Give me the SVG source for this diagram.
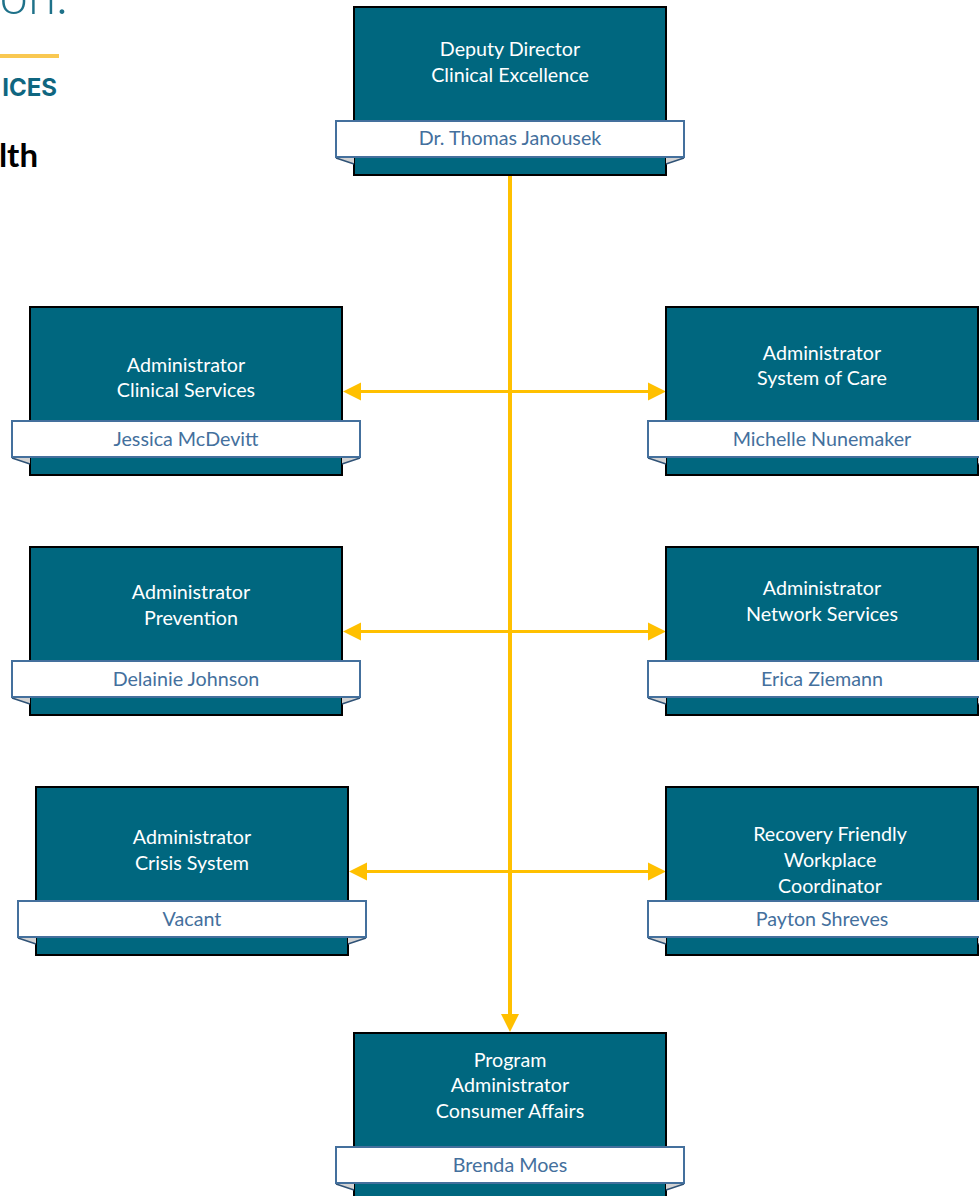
<svg xmlns="http://www.w3.org/2000/svg" width="979" height="1196" viewBox="0 0 979 1196">
<style>
text{font-family:"Lato","Open Sans","Liberation Sans",sans-serif;text-anchor:middle}
.box{fill:#00677f;stroke:#000;stroke-width:2}
.ban{fill:#fff;stroke:#44709d;stroke-width:2}
.fold{fill:#d2d2d2;stroke:none}
.edge{stroke:#2f5276;stroke-width:1.5;fill:none}
.t{fill:#fff;font-size:19.7px}
.n{fill:#44709d;font-size:19.7px}
.c{stroke:#ffc000;fill:none}
.h{fill:#ffc000}
</style>
<defs>
<g id="card">
<rect class="box" x="0" y="0" width="312" height="168"/>
<path class="fold" d="M-18 151L0 157V151ZM330 151L312 157V151Z"/>
<path class="edge" d="M-18 151L0 157M330 151L312 157"/>
<rect class="ban" x="-18" y="114" width="348" height="36"/>
</g>
</defs>
<g id="header">
<text x="68" y="14" style="text-anchor:end;font-size:51px;font-weight:300;fill:#1e7189">ion.</text>
<rect x="0" y="54" width="59" height="4" fill="#f9c851"/>
<text x="57" y="96" style="text-anchor:end;font-family:Inter,'Liberation Sans',sans-serif;font-size:24px;font-weight:700;fill:#0f6680">ICES</text>
<text x="38" y="167" style="text-anchor:end;font-size:33px;font-weight:700;fill:#000">lth</text>
</g>
<g id="connectors">
<path class="c" stroke-width="4" d="M510 176V1018"/>
<path class="c" stroke-width="3" d="M358 391.5H650M358 631.5H650M364 871.5H650"/>
<path class="h" d="M510 1032L501 1014H519ZM343 391.5L361 382.5V400.5ZM666 391.5L648 382.5V400.5ZM343 631.5L361 622.5V640.5ZM666 631.5L648 622.5V640.5ZM349 871.5L367 862.5V880.5ZM666 871.5L648 862.5V880.5Z"/>
</g>
<g id="node-deputy"><use href="#card" x="354" y="7"/>
<text class="t" x="510" y="56">Deputy Director</text><text class="t" x="510" y="82">Clinical Excellence</text>
<text class="n" x="510" y="145">Dr. Thomas Janousek</text></g>
<g id="node-clinical"><use href="#card" x="30" y="307"/>
<text class="t" x="186" y="372">Administrator</text><text class="t" x="186" y="397">Clinical Services</text>
<text class="n" x="186" y="446">Jessica McDevitt</text></g>
<g id="node-care"><use href="#card" x="666" y="307"/>
<text class="t" x="822" y="360">Administrator</text><text class="t" x="822" y="385">System of Care</text>
<text class="n" x="822" y="446">Michelle Nunemaker</text></g>
<g id="node-prevention"><use href="#card" x="30" y="547"/>
<text class="t" x="191" y="599">Administrator</text><text class="t" x="191" y="625">Prevention</text>
<text class="n" x="186" y="686">Delainie Johnson</text></g>
<g id="node-network"><use href="#card" x="666" y="547"/>
<text class="t" x="822" y="595">Administrator</text><text class="t" x="822" y="621">Network Services</text>
<text class="n" x="822" y="686">Erica Ziemann</text></g>
<g id="node-crisis"><use href="#card" x="36" y="787"/>
<text class="t" x="192" y="844">Administrator</text><text class="t" x="192" y="870">Crisis System</text>
<text class="n" x="192" y="926">Vacant</text></g>
<g id="node-recovery"><use href="#card" x="666" y="787"/>
<text class="t" x="830" y="841">Recovery Friendly</text><text class="t" x="830" y="867">Workplace</text><text class="t" x="830" y="893">Coordinator</text>
<text class="n" x="822" y="926">Payton Shreves</text></g>
<g id="node-consumer"><use href="#card" x="354" y="1033"/>
<text class="t" x="510" y="1067">Program</text><text class="t" x="510" y="1092">Administrator</text><text class="t" x="510" y="1118">Consumer Affairs</text>
<text class="n" x="510" y="1172">Brenda Moes</text></g>
</svg>
